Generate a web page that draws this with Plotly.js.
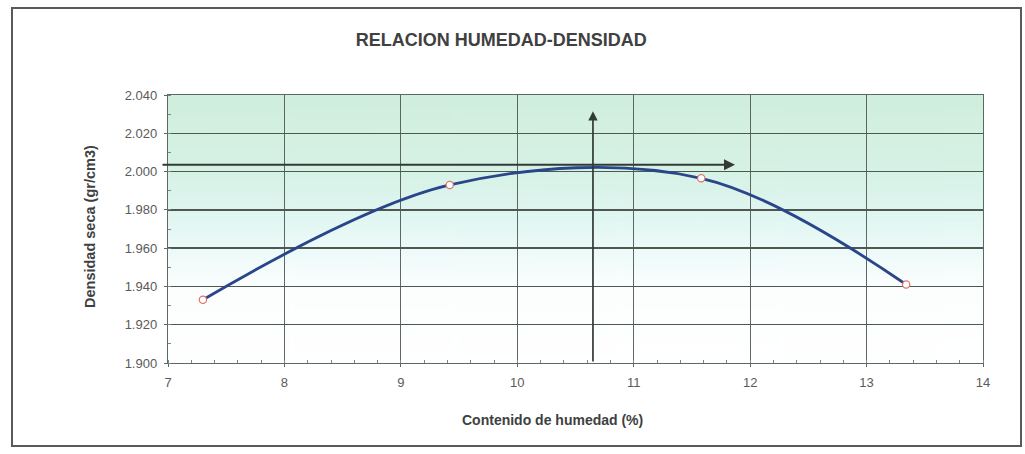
<!DOCTYPE html>
<html>
<head>
<meta charset="utf-8">
<script src="https://cdn.plot.ly/plotly-3.0.1.min.js"></script>
<style>
  html, body { margin: 0; padding: 0; background: #ffffff; }
  #wrap { position: relative; width: 1025px; height: 454px; }
  #chart { position: absolute; left: 0; top: 0; width: 1025px; height: 454px; }
  #frame { position: absolute; left: 11px; top: 7px; width: 1007px; height: 436px;
           border: 2.5px solid #5a5a5a; pointer-events: none; }
</style>
</head>
<body>
<div id="wrap">
  <div id="chart"></div>
  <div id="frame"></div>
</div>
<script>
// ---- Data ----
const moisture = [7.30, 9.42, 11.58, 13.34];          // Contenido de humedad (%)
const dryDensity = [1.933, 1.993, 1.9965, 1.941];      // Densidad seca (gr/cm3)
const optimumMoisture = 10.65;                          // vertical arrow
const maxDryDensity = 2.0035;                           // horizontal arrow
const xTicks = [7, 8, 9, 10, 11, 12, 13, 14];
const yTicks = [1.900, 1.920, 1.940, 1.960, 1.980, 2.000, 2.020, 2.040];

const titleText = 'RELACION HUMEDAD-DENSIDAD';
const xTitle = 'Contenido de humedad (%)';
const yTitle = 'Densidad seca (gr/cm3)';

// ---- Background gradient for plot area ----
function gradientURI() {
  const c = document.createElement('canvas');
  c.width = 10; c.height = 300;
  const g = c.getContext('2d');
  const gr = g.createLinearGradient(0, 0, 0, 300);
  gr.addColorStop(0.0, 'rgb(208,238,220)');
  gr.addColorStop(0.28, 'rgb(214,242,230)');
  gr.addColorStop(0.45, 'rgb(224,246,241)');
  gr.addColorStop(0.60, 'rgb(239,251,250)');
  gr.addColorStop(0.72, 'rgb(252,254,254)');
  gr.addColorStop(1.0, 'rgb(255,255,255)');
  g.fillStyle = gr; g.fillRect(0, 0, 10, 300);
  return c.toDataURL('image/png');
}

const gridCol = '#4c5850';
const FONT = 'Liberation Sans, Arial, sans-serif';
const tickFont = { family: FONT, size: 13, color: '#5a5a5a' };

const trace = {
  x: moisture, y: dryDensity,
  type: 'scatter', mode: 'lines+markers',
  line: { shape: 'spline', smoothing: 1, color: '#29468a', width: 2.8 },
  marker: { symbol: 'circle-open', size: 7, color: '#e0736a', line: { width: 1.5, color: '#e0736a' } },
  cliponaxis: false,
  hoverinfo: 'x+y'
};
// white fill behind open markers
const markerFill = {
  x: moisture, y: dryDensity, type: 'scatter', mode: 'markers',
  marker: { symbol: 'circle', size: 6, color: '#ffffff' }, hoverinfo: 'skip'
};

const layout = {
  width: 1025, height: 454,
  margin: { l: 168, r: 42, t: 95, b: 91 },
  paper_bgcolor: '#ffffff',
  plot_bgcolor: 'rgba(0,0,0,0)',
  showlegend: false,
  title: {
    text: '<b>' + titleText + '</b>',
    font: { family: FONT, size: 18, color: '#404040' },
    xref: 'container', x: 0.489, xanchor: 'center',
    yref: 'container', y: 1 - 40 / 454, yanchor: 'middle'
  },
  xaxis: {
    range: [7, 14], tickvals: xTicks, ticktext: xTicks.map(String),
    showgrid: true, gridcolor: gridCol, gridwidth: 0.9,
    showline: true, linecolor: '#5a6a60', linewidth: 1.2, mirror: true,
    ticks: 'outside', ticklen: 3, tickcolor: '#5a6a60', ticklabelstandoff: 4,
    minor: { dtick: 0.2, ticks: 'inside', ticklen: 3, tickcolor: '#7a8a80', showgrid: false },
    tickfont: tickFont, zeroline: false, fixedrange: true
  },
  yaxis: {
    range: [1.900, 2.040], tickvals: yTicks, ticktext: yTicks.map(v => v.toFixed(3)),
    showgrid: true, gridcolor: gridCol, gridwidth: 1.3,
    showline: true, linecolor: '#5a6a60', linewidth: 1.2, mirror: true,
    ticks: 'outside', ticklen: 3, tickcolor: '#5a6a60', ticklabelstandoff: 4,
    minor: { dtick: 0.01, ticks: 'inside', ticklen: 3, tickcolor: '#7a8a80', showgrid: false },
    tickfont: tickFont, zeroline: false, fixedrange: true
  },
  images: [{
    source: gradientURI(), xref: 'paper', yref: 'paper',
    x: 0, y: 1, sizex: 1, sizey: 1, xanchor: 'left', yanchor: 'top',
    sizing: 'stretch', layer: 'below'
  }],
  annotations: [
    { // x axis title
      text: '<b>' + xTitle + '</b>', showarrow: false,
      xref: 'paper', x: (552 - 168) / (983 - 168), xanchor: 'center',
      yref: 'paper', y: -(420 - 363) / (363 - 95), yanchor: 'middle',
      font: { family: FONT, size: 14, color: '#404040' }
    },
    { // y axis title
      text: '<b>' + yTitle + '</b>', showarrow: false, textangle: -90,
      xref: 'paper', x: -(168 - 90) / (983 - 168), xanchor: 'center',
      yref: 'paper', y: 1 - (227 - 95) / (363 - 95), yanchor: 'middle',
      font: { family: FONT, size: 14.5, color: '#404040' }
    },
    { // vertical arrow at optimum moisture
      x: optimumMoisture, y: 2.0315, xref: 'x', yref: 'y',
      ax: optimumMoisture, ay: 1.900, axref: 'x', ayref: 'y',
      text: '', showarrow: true, arrowhead: 2, arrowsize: 1.1, arrowwidth: 1.7,
      arrowcolor: '#333a35', standoff: 0, startstandoff: 0
    },
    { // horizontal arrow at max dry density
      x: 11.87, y: maxDryDensity, xref: 'x', yref: 'y',
      ax: 6.94, ay: maxDryDensity, axref: 'x', ayref: 'y',
      text: '', showarrow: true, arrowhead: 2, arrowsize: 1.1, arrowwidth: 2,
      arrowcolor: '#333a35', standoff: 0, startstandoff: 0
    }
  ]
};

Plotly.newPlot('chart', [trace, markerFill], layout, { displayModeBar: false, staticPlot: true });
</script>
</body>
</html>
